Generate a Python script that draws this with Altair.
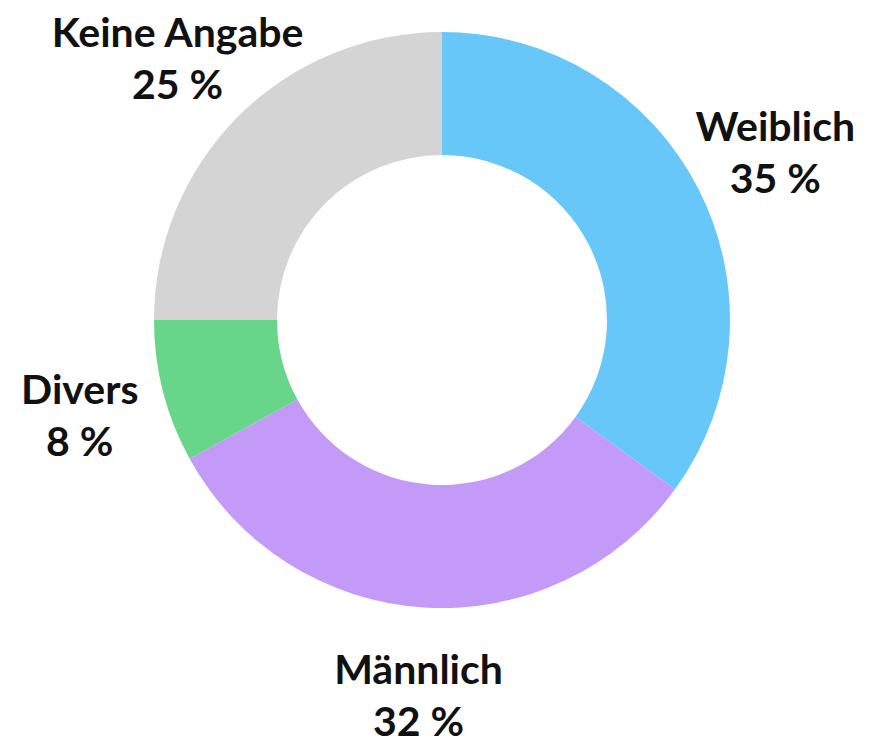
import altair as alt
import pandas as pd

categories = ["Weiblich", "Männlich", "Divers", "Keine Angabe"]
values = [35, 32, 8, 25]
colors = ["#67C7F9", "#C49AF8", "#68D68A", "#D4D4D4"]

df = pd.DataFrame({
    "cat": categories,
    "val": values,
    "order": list(range(len(categories))),
})
df["label"] = [f"{c}\n{v} %" for c, v in zip(categories, values)]

base = alt.Chart(df).encode(
    theta=alt.Theta("val:Q", stack=True),
    order=alt.Order("order:Q"),
)

arcs = base.mark_arc(innerRadius=165, outerRadius=288).encode(
    color=alt.Color("cat:N", scale=alt.Scale(domain=categories, range=colors), legend=None),
    x=alt.value(434),
    y=alt.value(312),
)

labels = base.mark_text(
    radius=374,
    font="Lato",
    fontSize=41,
    fontWeight="bold",
    lineBreak="\n",
    lineHeight=52,
    dy=-21,
    align="center",
    baseline="middle",
    color="#111111",
).encode(
    text="label:N",
    x=alt.value(434),
    y=alt.value(312),
)

chart = (arcs + labels).properties(
    width=855, height=735, padding=0, autosize="none"
).configure_view(stroke=None)

chart.save("out.html", embed_options={"renderer": "svg", "actions": False})
